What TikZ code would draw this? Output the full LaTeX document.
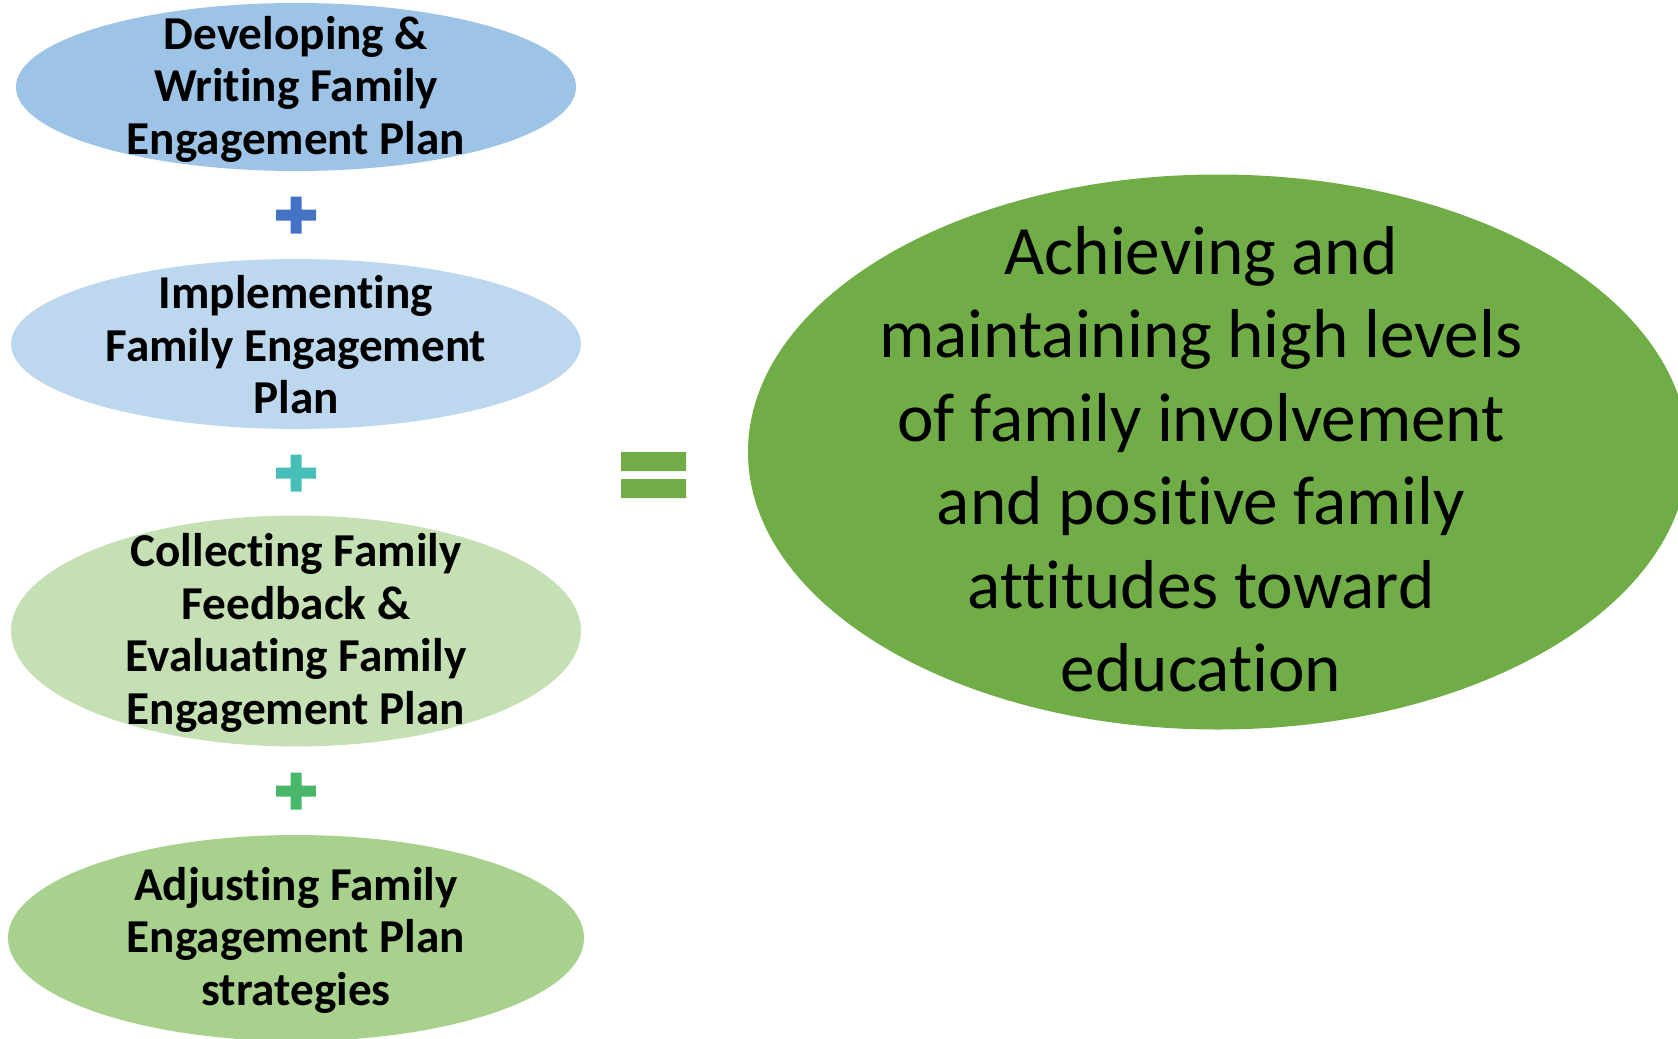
\documentclass[tikz,border=0pt]{standalone}
\usepackage{fontspec}
\setmainfont{Carlito}[RawFeature={-liga;-clig;-calt;-dlig}]
\usepackage{xcolor}
\usepackage{tikz}
\usetikzlibrary{arrows.meta, positioning, shapes.geometric, calc}

\definecolor{planblue}{HTML}{9DC3E6}
\definecolor{paleblue}{HTML}{BDD7EE}
\definecolor{palegreen}{HTML}{C5E0B4}
\definecolor{midgreen}{HTML}{A9D18E}
\definecolor{goalgreen}{HTML}{70AD47}
\definecolor{plusblue}{HTML}{4472C4}
\definecolor{plusteal}{HTML}{47BEB8}
\definecolor{plusgreen}{HTML}{48B76A}

\begin{document}
\begin{tikzpicture}[
		x=0.5pt, y=-0.5pt,
		blob/.style={ellipse, inner sep=0pt, draw=none},
		steptext/.style={align=center, font=\fontsize{23.6}{26.25}\selectfont\bfseries},
		goaltext/.style={align=center, font=\fontsize{34.6}{41.75}\selectfont}
		]
		\useasboundingbox (0,0) rectangle (1678,1039);
		
		% Nodes
		\node[blob, fill=planblue, minimum width=280pt, minimum height=84pt] (develop) at (296,87) {};
		\node[steptext] (developtxt) at (296,89) {Developing \&\\Writing Family\\Engagement Plan};
		
		\node[blob, fill=paleblue, minimum width=285pt, minimum height=85pt] (implement) at (296,344) {};
		\node[steptext] (implementtxt) at (296,345) {Implementing\\Family Engagement\\Plan};
		
		\node[blob, fill=palegreen, minimum width=285pt, minimum height=115.5pt] (collect) at (296,631) {};
		\node[steptext] (collecttxt) at (296,633) {Collecting Family\\Feedback \&\\Evaluating Family\\Engagement Plan};
		
		\node[blob, fill=midgreen, minimum width=288pt, minimum height=103pt] (adjust) at (296,938) {};
		\node[steptext] (adjusttxt) at (296,940) {Adjusting Family\\Engagement Plan\\strategies};
		
		\node[blob, fill=goalgreen, minimum width=470pt, minimum height=277.5pt] (goal) at (1218,452) {};
		\node[goaltext] (goaltxt) at (1201,459) {Achieving and\\maintaining high levels\\of family involvement\\and positive family\\attitudes toward\\education};
		
		% Plus signs
		\foreach \py/\pc in {215/plusblue, 473/plusteal, 791/plusgreen}
			\fill[\pc] (276,\py-5.5) rectangle (316,\py+5.5)
				(290.5,\py-18.5) rectangle (301.5,\py+18.5);
		
		% Equals sign
		\fill[goalgreen] (621,452) rectangle (686,471)
			(621,479) rectangle (686,498);
		
	\end{tikzpicture}
\end{document}
